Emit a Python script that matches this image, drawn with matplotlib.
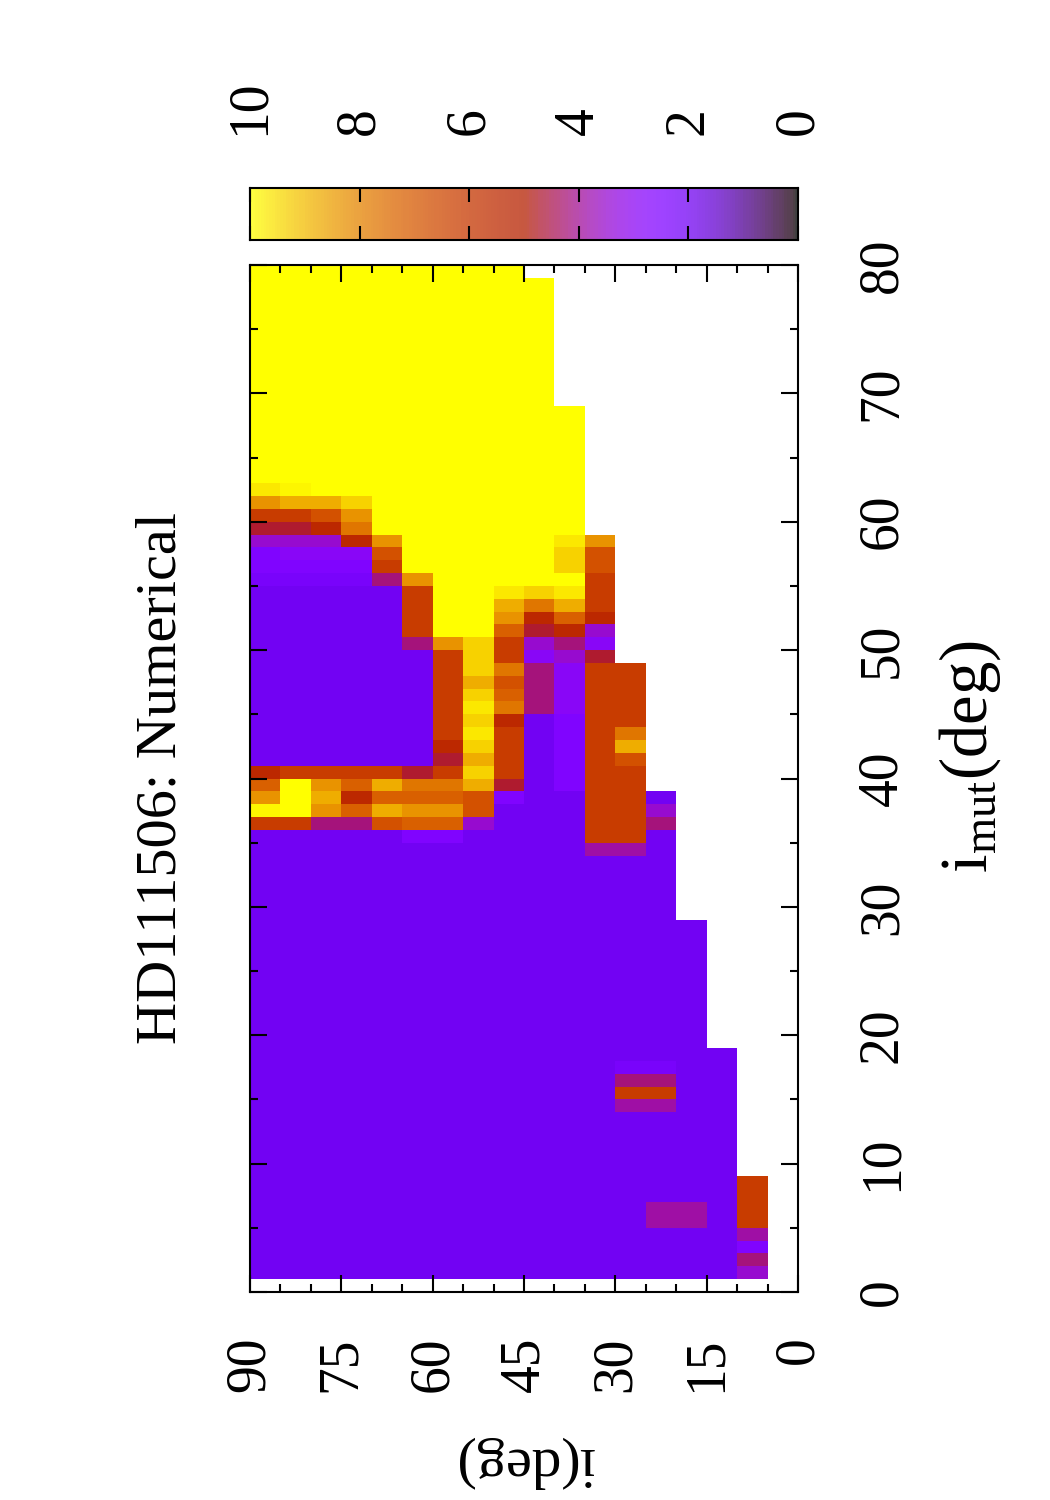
import numpy as np
import matplotlib
matplotlib.use('Agg')
import matplotlib.pyplot as plt

plt.rcParams['font.family'] = ['Liberation Serif', 'DejaVu Serif']
plt.rcParams['mathtext.fontset'] = 'custom'
plt.rcParams['mathtext.rm'] = 'Liberation Serif'
plt.rcParams['mathtext.it'] = 'Liberation Serif:italic'

title = 'HD111506: Numerical'
i_edges = np.arange(90, -1, -5)      # i bins, left to right on the page
imut_edges = np.arange(1, 81)        # i_mut bins, 1 deg wide
i_ticks = np.arange(0, 91, 15)
imut_ticks = np.arange(0, 81, 10)
cb_ticks = np.arange(0, 11, 2)

# colour letters -> value on the 0..10 scale
key = {'p': 2.0, 'u': 2.25, 'v': 2.5, 'w': 2.9, 'm': 3.5, 'n': 3.9,
       'q': 4.2, 'c': 4.7, 'd': 5.4, 'r': 6.15, 's': 6.8, 't': 7.2,
       'o': 7.7, 'e': 8.3, 'f': 8.75, 'g': 9.35, 'h': 9.65, 'k': 9.85,
       'y': 10.0}

# one string per i_mut row, top row (79-80) first; '.' = no data
rows = (["yyyyyyyyy........."]
        + ["yyyyyyyyyy........"] * 10
        + ["yyyyyyyyyyy......."] * 6
        + ["hkyyyyyyyyy.......",   # 62
           "effgyyyyyyy.......",   # 61
           "rrseyyyyyyy.......",   # 60
           "ccdoyyyyyyy.......",   # 59
           "mmmdeyyyyyhe......",   # 58
           "vwwwsyyyyygs......",   # 57
           "vvvvryyyyygs......",   # 56
           "uuuuqeyyyyyr......",   # 55
           "pppppryyhghr......",   # 54
           "pppppryyfofr......",   # 53
           "pppppryyedtd......",   # 52
           "pppppryytcdm......",   # 51
           "pppppqegrmqw......",   # 50
           "pppppprgrwmc......",   # 49
           "pppppprgoqwrr.....",   # 48
           "pppppprfsqwrr.....",   # 47
           "pppppprgtqwrr.....",   # 46
           "pppppprhoqwrr.....",   # 45
           "pppppprgdpvrr.....",   # 44
           "pppppprhrpvro.....",   # 43
           "ppppppdgrpvrf.....",   # 42
           "ppppppcfrpvrs.....",   # 41
           "drrrrcrgrpvrr.....",   # 40
           "tyetfoofcpvrr.....",   # 39
           "eyfdtttsvpprrp....",   # 38
           "kyetfeesppprrm....",   # 37
           "rrqqsttmppprrq....",   # 36
           "pppppvvpppprrp....",   # 35
           "pppppppppppnnp...."]   # 34
        + ["pppppppppppppp...."] * 5
        + ["ppppppppppppppp..."] * 10
        + ["pppppppppppppppp..",   # 18
           "ppppppppppppuupp..",   # 17
           "ppppppppppppqqpp..",   # 16
           "pppppppppppprrpp..",   # 15
           "ppppppppppppnnpp.."]   # 14
        + ["pppppppppppppppp.."] * 5
        + ["ppppppppppppppppr."] * 2
        + ["pppppppppppppnnpr."] * 2
        + ["ppppppppppppppppn.",   # 4
           "ppppppppppppppppv.",   # 3
           "ppppppppppppppppq.",   # 2
           "ppppppppppppppppm."])  # 1

Z = np.array([[key.get(ch, np.nan) for ch in r] for r in rows[::-1]])
Z = np.ma.masked_invalid(Z)

fig = plt.figure(figsize=(10.5, 15), dpi=100)
ax = fig.add_axes([250/1050, 1-1292/1500, 548/1050, 1027/1500])
mesh = ax.pcolormesh(i_edges, imut_edges, Z, cmap='gnuplot', vmin=0, vmax=10,
                     shading='flat', antialiased=False, linewidth=0)
ax.set_xlim(90, 0)
ax.set_ylim(0, 80)
ax.set_xticks(i_ticks)
ax.set_xticks(np.arange(0, 91, 5), minor=True)
ax.set_yticks(imut_ticks)
ax.set_yticks(np.arange(0, 81, 5), minor=True)
ax.tick_params(which='both', direction='in', top=True, bottom=True,
               left=True, right=True, width=1.5, labelsize=40)
ax.tick_params(which='major', length=12)
ax.tick_params(which='minor', length=6)
ax.tick_params(axis='x', pad=32)
ax.tick_params(axis='y', labelleft=False, labelright=True, pad=42)
for lab in ax.get_xticklabels():
    lab.set_rotation(90)
for lab in ax.get_yticklabels():
    lab.set_rotation(90)
    lab.set_va('center')
    lab.set_ha('left')
for sp in ax.spines.values():
    sp.set_linewidth(1.5)

# colour box on top, 10 on the left and 0 on the right
cax = fig.add_axes([250/1050, 1-240/1500, 548/1050, 52/1500])
grad = np.linspace(0, 10, 201)
cax.pcolormesh(grad, [0, 1], ((grad[:-1] + grad[1:]) / 2)[None, :],
               cmap='gnuplot', vmin=0, vmax=10, alpha=0.75,
               antialiased=False, linewidth=0)
cax.set_xlim(10, 0)
cax.set_ylim(0, 1)
cax.set_yticks([])
cax.set_xticks(cb_ticks)
cax.tick_params(axis='x', direction='in', top=True, bottom=True,
                labeltop=True, labelbottom=False, length=10, width=1.5,
                labelsize=40, pad=38)
for lab in cax.get_xticklabels():
    lab.set_rotation(90)
for sp in cax.spines.values():
    sp.set_linewidth(1.5)

fig.text(162/1050, 1-778/1500, title, rotation=90, ha='center', va='center',
         fontsize=42)
fig.text(524/1050, 1-1462/1500, 'i(deg)', rotation=180, ha='center',
         va='center', fontsize=42)
fig.text(970/1050, 1-757/1500, r'i$_{\mathrm{mut}}$(deg)', rotation=90,
         ha='center', va='center', fontsize=48)

fig.savefig('out.png', dpi=100)
